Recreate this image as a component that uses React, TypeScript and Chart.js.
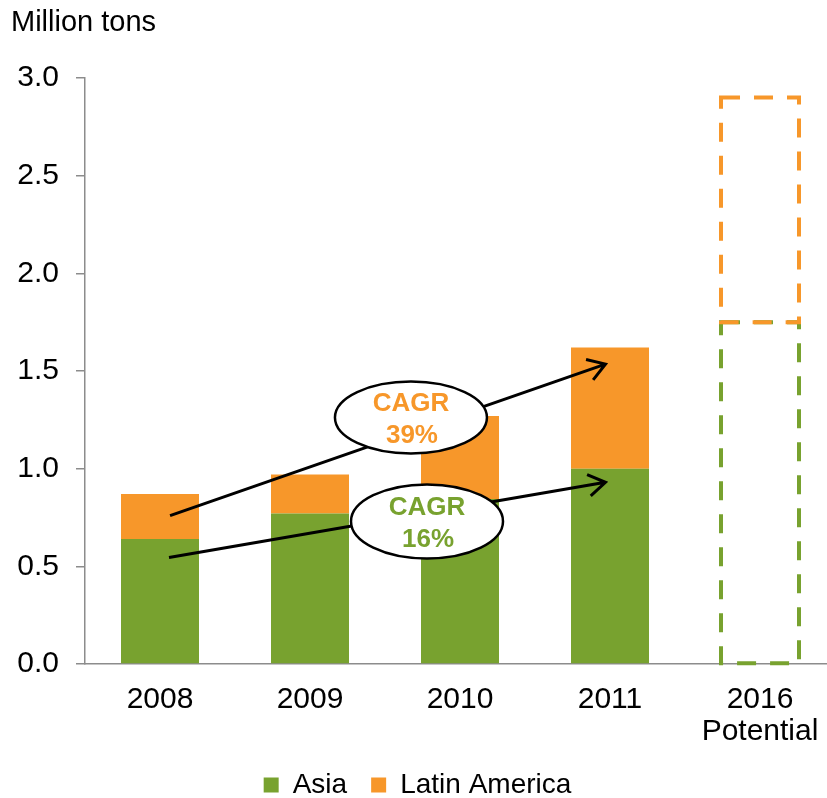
import React, { useEffect, useRef } from "react";
import { Chart, registerables } from "chart.js";

Chart.register(...registerables);

const categories: (string | string[])[] = ["2008", "2009", "2010", "2011", ["2016", "Potential"]];
const asiaValues = [0.64, 0.77, 0.845, 1.0, 1.75];
const latamValues = [0.23, 0.2, 0.425, 0.62, 1.15];
const potentialIndex = 4;
const yTicks = [0, 0.5, 1.0, 1.5, 2.0, 2.5, 3.0];
const cagrOrange = ["CAGR", "39%"];
const cagrGreen = ["CAGR", "16%"];

const GREEN = "#78A22F";
const ORANGE = "#F7972A";
const AXIS = "#8C8C8C";
const FONT = '"Liberation Sans", Arial, sans-serif';

// annotation geometry: [xIndex, yValue]
const orangeArrow = { from: [0.067, 0.76], to: [2.97, 1.535] };
const greenArrow = { from: [0.06, 0.545], to: [2.97, 0.93] };
const orangeEllipse = { c: [1.673, 1.262], rx: 76, ry: 36 };
const greenEllipse = { c: [1.78, 0.73], rx: 76, ry: 37 };

const potentialPlugin = {
  id: "potential",
  afterDatasetsDraw(chart: any) {
    const ctx = chart.ctx;
    const colors = [GREEN, ORANGE];
    [0, 1].forEach((di) => {
      const meta = chart.getDatasetMeta(di);
      const el = meta.data[potentialIndex];
      if (!el) return;
      const { x, y, base, width } = el.getProps(["x", "y", "base", "width"], true);
      ctx.save();
      ctx.setLineDash([19, 14]);
      ctx.lineWidth = 4;
      ctx.strokeStyle = colors[di];
      ctx.strokeRect(x - width / 2, y, width, base - y);
      ctx.restore();
    });
  },
};

function drawArrow(ctx: any, x1: number, y1: number, x2: number, y2: number) {
  ctx.beginPath();
  ctx.moveTo(x1, y1);
  ctx.lineTo(x2, y2);
  const ang = Math.atan2(y2 - y1, x2 - x1);
  const len = 20;
  const spread = Math.PI / 5.5;
  ctx.moveTo(x2 - len * Math.cos(ang - spread), y2 - len * Math.sin(ang - spread));
  ctx.lineTo(x2, y2);
  ctx.lineTo(x2 - len * Math.cos(ang + spread), y2 - len * Math.sin(ang + spread));
  ctx.stroke();
}

const annotationPlugin = {
  id: "cagr",
  afterDatasetsDraw(chart: any) {
    const ctx = chart.ctx;
    const xs = chart.scales.x;
    const ys = chart.scales.y;
    const px = (p: number[]) => [xs.getPixelForValue(p[0]), ys.getPixelForValue(p[1])];
    ctx.save();
    ctx.strokeStyle = "#000";
    ctx.lineWidth = 3;
    ctx.lineCap = "butt";
    ctx.lineJoin = "miter";
    [orangeArrow, greenArrow].forEach((a) => {
      const [x1, y1] = px(a.from);
      const [x2, y2] = px(a.to);
      drawArrow(ctx, x1, y1, x2, y2);
    });
    const ells = [
      { e: orangeEllipse, t: cagrOrange, col: ORANGE },
      { e: greenEllipse, t: cagrGreen, col: GREEN },
    ];
    ells.forEach(({ e, t, col }) => {
      const [cx, cy] = px(e.c);
      ctx.beginPath();
      ctx.ellipse(cx, cy, e.rx, e.ry, 0, 0, Math.PI * 2);
      ctx.fillStyle = "#fff";
      ctx.fill();
      ctx.lineWidth = 2.5;
      ctx.stroke();
      ctx.fillStyle = col;
      ctx.font = `bold 26px ${FONT}`;
      ctx.textAlign = "center";
      ctx.textBaseline = "middle";
      ctx.fillText(t[0], cx, cy - 14);
      ctx.fillText(t[1], cx + 1, cy + 18);
    });
    ctx.restore();
  },
  afterDraw(chart: any) {
    const ctx = chart.ctx;
    ctx.save();
    ctx.fillStyle = "#000";
    ctx.font = `29px ${FONT}`;
    ctx.textAlign = "left";
    ctx.textBaseline = "alphabetic";
    ctx.fillText("Million tons", 11, 31);
    ctx.restore();
  },
};

export default function App() {
  const ref = useRef<HTMLCanvasElement>(null);
  useEffect(() => {
    if (!ref.current) return;
    const chart = new Chart(ref.current, {
      type: "bar",
      data: {
        labels: categories,
        datasets: [
          {
            label: "Asia",
            data: asiaValues,
            backgroundColor: (c: any) => (c.dataIndex === potentialIndex ? "rgba(0,0,0,0)" : GREEN),
            borderWidth: 0,
            categoryPercentage: 1,
            barPercentage: 0.52,
          },
          {
            label: "Latin America",
            data: latamValues,
            backgroundColor: (c: any) => (c.dataIndex === potentialIndex ? "rgba(0,0,0,0)" : ORANGE),
            borderWidth: 0,
            categoryPercentage: 1,
            barPercentage: 0.52,
          },
        ],
      },
      options: {
        responsive: false,
        animation: false,
        layout: { padding: { top: 78, left: 0, right: 10, bottom: -11 } },
        plugins: {
          tooltip: { enabled: false },
          title: { display: false },
          legend: {
            position: "bottom",
            labels: {
              boxWidth: 15,
              boxHeight: 15,
              padding: 24,
              color: "#000",
              font: { family: FONT, size: 28 },
            },
          },
        },
        scales: {
          x: {
            stacked: true,
            grid: { display: false },
            border: { display: true, color: AXIS, width: 1.5 },
            ticks: { color: "#000", font: { family: FONT, size: 30, lineHeight: 1.07 }, padding: 12 },
            afterFit: (s: any) => {
              s.height = 83;
            },
          },
          y: {
            stacked: true,
            min: 0,
            max: 3,
            afterBuildTicks: (s: any) => {
              s.ticks = yTicks.map((v) => ({ value: v }));
            },
            afterFit: (s: any) => {
              s.width = 85;
            },
            grid: { drawOnChartArea: false, drawTicks: true, tickLength: 9, color: AXIS, lineWidth: 1.5 },
            border: { display: true, color: AXIS, width: 1.5 },
            ticks: {
              color: "#000",
              font: { family: FONT, size: 30 },
              padding: 17,
              callback: (v: any) => Number(v).toFixed(1),
            },
          },
        },
      },
      plugins: [potentialPlugin, annotationPlugin],
    });
    return () => chart.destroy();
  }, []);
  return (
    <div style={{ position: "absolute", left: 0, top: 0, width: 827, height: 798, overflow: "hidden", background: "#fff" }}>
      <canvas ref={ref} width={845} height={798} style={{ display: "block" }} />
    </div>
  );
}
